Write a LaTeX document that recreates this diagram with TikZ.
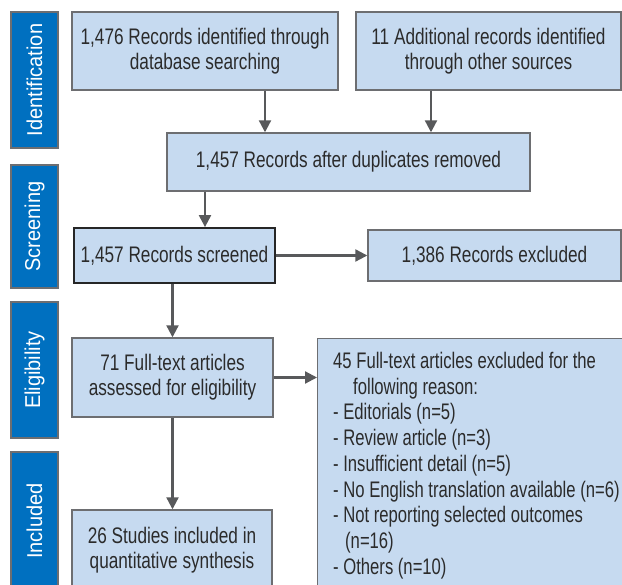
\documentclass[tikz,border=0pt]{standalone}
\usepackage{fontspec}
\setmainfont[FakeStretch=0.765]{Liberation Sans}
\newfontfamily\stagefont[FakeStretch=0.93]{Liberation Sans}
\newfontfamily\reasonfont[FakeStretch=0.74]{Liberation Sans}
\usepackage{xcolor}
\usetikzlibrary{arrows.meta,positioning,calc}
\definecolor{stageBlue}{HTML}{0070C0}
\definecolor{boxBlue}{HTML}{C6DAF0}
\definecolor{edgeGray}{HTML}{6D6E71}
\definecolor{arrowGray}{HTML}{58595B}
\definecolor{textGray}{HTML}{2B2B2B}

\begin{document}
\begin{tikzpicture}[x=1pt, y=-1pt,
        stage/.style={draw=edgeGray, line width=1.6pt, fill=stageBlue, rotate=90, text=white,
                      minimum height=47, inner sep=0pt, font=\stagefont\fontsize{21.5}{25}\selectfont},
        rec/.style={draw=edgeGray, line width=1.4pt, fill=boxBlue, text=textGray, align=center,
                    inner sep=0pt, font=\fontsize{22.5}{25}\selectfont},
        recbold/.style={rec, draw=black!85, line width=1.8pt},
        reasons/.style={align=left, inner sep=0pt, text=textGray, font=\reasonfont\fontsize{22.5}{25.7}\selectfont},
        arr/.style={-{Triangle[length=12pt,width=12pt]}, line width=2.2pt, draw=arrowGray, fill=arrowGray}
    ]
        \useasboundingbox (0,0) rectangle (622,585);
        \clip (0,0) rectangle (622,585);

        % stages down the left side
        \node[stage, minimum width=136] (s1) at (34.5,80) {Identification};
        \node[stage, minimum width=123] (s2) at (34.5,226.5) {Screening};
        \node[stage, minimum width=136] (s3) at (34.5,370) {Eligibility};
        \node[stage, minimum width=138] (s4) at (34.5,521) {Included};

        \node[rec, minimum width=266, minimum height=78] (ident) at (205,51)
            {1,476 Records identified through\\database searching};
        \node[rec, minimum width=265, minimum height=78] (other) at (488.5,51)
            {11 Additional records identified\\through other sources};
        \node[rec, minimum width=363, minimum height=58] (dedup) at (348.5,162)
            {1,457 Records after duplicates removed};
        \node[recbold, minimum width=201, minimum height=55] (screen) at (174.5,255.5)
            {1,457 Records screened};
        \node[rec, minimum width=253, minimum height=51] (excl) at (494.5,255.5)
            {1,386 Records excluded};
        \node[rec, minimum width=201, minimum height=79] (full) at (172.5,377.5)
            {71 Full-text articles\\assessed for eligibility};
        \node[rec, minimum width=306, minimum height=262, anchor=north west] (fullexcl) at (317,338) {};
        \node[reasons, anchor=north west] (why) at ([xshift=16pt,yshift=-14pt]fullexcl.north west)
            {45 Full-text articles excluded for the\\
             \hspace*{20pt}following reason:\\
             - Editorials (n=5)\\
             - Review article (n=3)\\
             - Insufficient detail (n=5)\\
             - No English translation available (n=6)\\
             - Not reporting selected outcomes\\
             \hspace*{12pt}(n=16)\\
             - Others (n=10)};
        \node[rec, minimum width=200, minimum height=80] (incl) at (172,550)
            {26 Studies included in\\quantitative synthesis};

        \coordinate (m1) at (265,0);
        \coordinate (m2) at (431,0);
        \coordinate (m3) at (205,0);
        \draw[arr] (ident.south -| m1) -- (dedup.north -| m1);
        \draw[arr] (other.south -| m2) -- (dedup.north -| m2);
        \draw[arr] (dedup.south -| m3) -- (screen.north -| m3);
        \draw[arr] (screen) -- (excl);
        \draw[arr] (screen.south -| full.north) -- (full.north);
        \draw[arr] (full.east) -- (full.east -| fullexcl.west);
        \draw[arr] (full.south) -- (full.south |- incl.north);
    \end{tikzpicture}
\end{document}
